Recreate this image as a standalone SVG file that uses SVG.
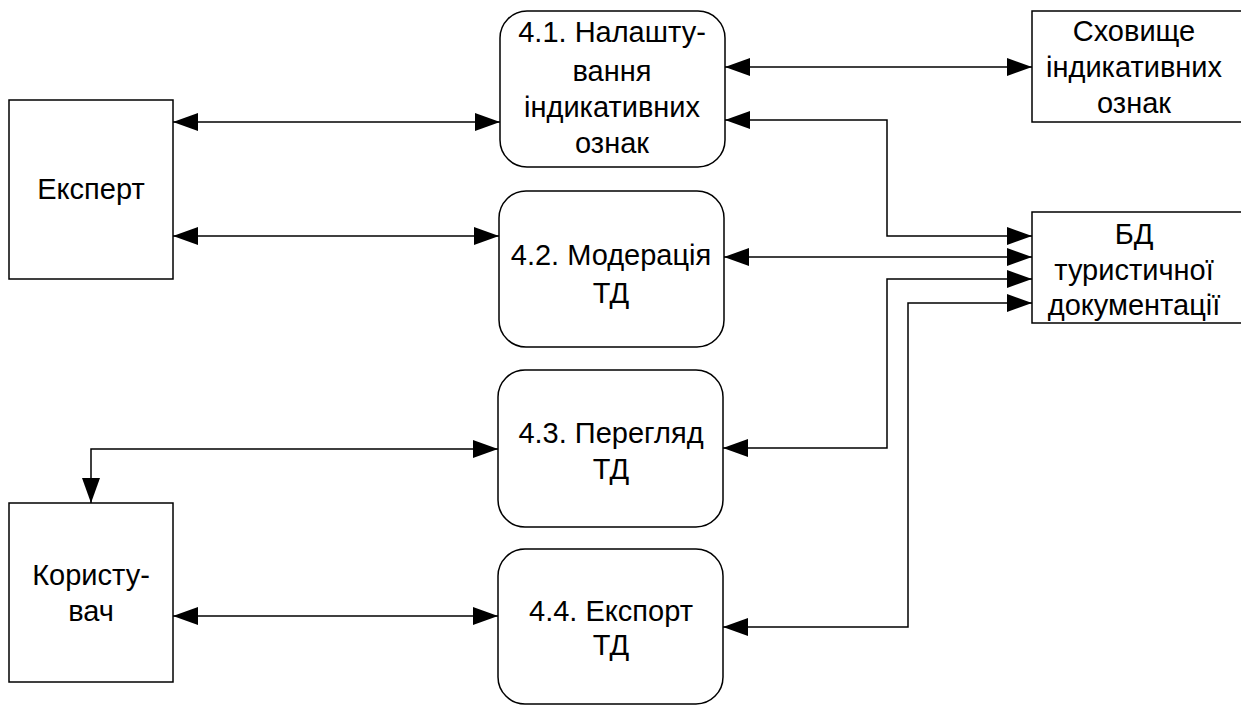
<svg xmlns="http://www.w3.org/2000/svg" width="1241" height="706" viewBox="0 0 1241 706">
<defs>
<style>
.box{fill:#fff;stroke:#000;stroke-width:1.5}
.t{font-family:"Liberation Sans",Arial,sans-serif;font-size:29px;fill:#000;text-anchor:middle}
.c{fill:none;stroke:#000;stroke-width:1.5;marker-start:url(#ah);marker-end:url(#ah)}
</style>
<marker id="ah" markerUnits="userSpaceOnUse" markerWidth="26" markerHeight="18" refX="25" refY="9" orient="auto-start-reverse" viewBox="0 0 26 18">
<path d="M0,0 L25,9 L0,18 z" fill="#000"/>
</marker>
</defs>
<rect width="1241" height="706" fill="#fff"/>
<g id="connectors">
<path class="c" d="M173,122 H500"/>
<path class="c" d="M173,236 H499"/>
<path class="c" d="M725,67 H1032"/>
<path class="c" d="M725,120 H887 V236 H1032"/>
<path class="c" d="M724,257 H1032"/>
<path class="c" d="M723,448 H887 V279 H1032"/>
<path class="c" d="M723,627 H908 V303 H1032"/>
<path class="c" d="M91,503 V449 H498"/>
<path class="c" d="M173,616 H498"/>
</g>
<g id="expert">
<rect class="box" x="9" y="100" width="164" height="179"/>
<text class="t" x="91" y="199">Експерт</text>
</g>
<g id="user">
<rect class="box" x="9" y="503" width="164" height="179"/>
<text class="t" x="91" y="585">Користу-</text>
<text class="t" x="91" y="621">вач</text>
</g>
<g id="p41">
<rect class="box" x="500" y="11" width="225" height="156" rx="27"/>
<text class="t" x="612" y="42">4.1. Налашту-</text>
<text class="t" x="612" y="81">вання</text>
<text class="t" x="612" y="117">індикативних</text>
<text class="t" x="612" y="153">ознак</text>
</g>
<g id="p42">
<rect class="box" x="499" y="191" width="225" height="156" rx="27"/>
<text class="t" x="611" y="265">4.2. Модерація</text>
<text class="t" x="611" y="303">ТД</text>
</g>
<g id="p43">
<rect class="box" x="498" y="370" width="225" height="157" rx="27"/>
<text class="t" x="611" y="443">4.3. Перегляд</text>
<text class="t" x="611" y="479">ТД</text>
</g>
<g id="p44">
<rect class="box" x="498" y="549" width="225" height="155" rx="27"/>
<text class="t" x="611" y="621">4.4. Експорт</text>
<text class="t" x="611" y="655">ТД</text>
</g>
<g id="store">
<rect class="box" x="1032" y="11" width="215" height="111"/>
<text class="t" x="1134" y="41">Сховище</text>
<text class="t" x="1134" y="77">індикативних</text>
<text class="t" x="1134" y="113">ознак</text>
</g>
<g id="db">
<rect class="box" x="1032" y="212" width="215" height="111"/>
<text class="t" x="1134" y="244">БД</text>
<text class="t" x="1134" y="280">туристичної</text>
<text class="t" x="1134" y="315">документації</text>
</g>
</svg>
